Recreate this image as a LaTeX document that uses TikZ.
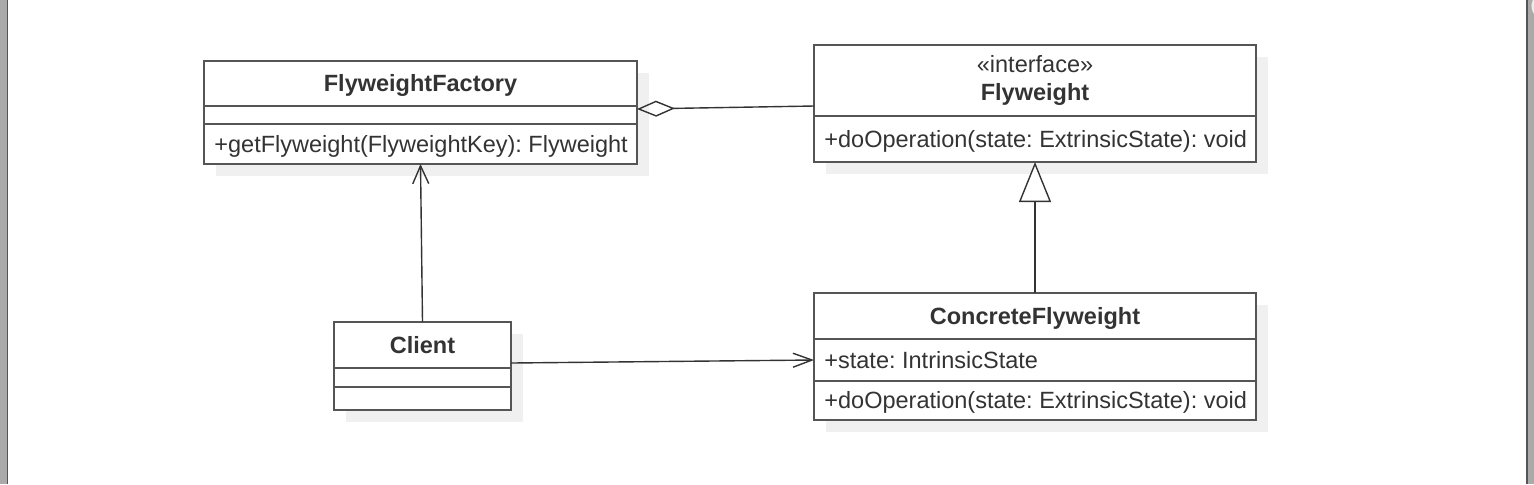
\documentclass[tikz,border=0pt]{standalone}
\usepackage{fontspec}
\setmainfont{Liberation Sans}
\usepackage{tikz}
\usetikzlibrary{positioning, shadows, arrows.meta}
\definecolor{grisborde}{RGB}{85,85,85}
\definecolor{gristexto}{RGB}{51,51,51}
\definecolor{grissombra}{RGB}{240,240,240}
\definecolor{grismarco}{RGB}{170,170,170}
\frenchspacing

\begin{document}
\begin{tikzpicture}[
		x=0.5pt, y=-0.5pt,
		node distance = 0pt,                        % Partes pegadas una bajo otra
		parte/.style = {
			rectangle,
			draw=grisborde,
			line width=1pt,
			fill=white,
			outer sep=0pt,
			inner sep=0pt,
			font=\fontsize{11.75}{13.75}\selectfont,
			text=gristexto,
			drop shadow={shadow xshift=6pt, shadow yshift=-6pt, fill=grissombra, opacity=1}
		},
		clase/.style = {
			parte,
			font=\fontsize{11.75}{13.75}\selectfont\bfseries,
			text height=8.4pt,
			text depth=0pt
		},
		texto/.style = {
			font=\fontsize{11.75}{13.75}\selectfont,
			text=gristexto,
			inner sep=0pt,
			text height=8.4pt,
			text depth=0pt
		},
		miembro/.style = {parte, label={[texto, anchor=west, xshift=5pt]west:{#1}}},
		conector/.style = {draw=gristexto, line width=0.7pt}
		]
		
		% Fondo y marco
		\useasboundingbox (0,0) rectangle (1534,484);
		\fill[white] (0,0) rectangle (1534,484);
		\fill[grismarco] (0,0) rectangle (7,484);
		\draw[grisborde, line width=0.6pt] (7.5,0) -- (7.5,484);
		\fill[grismarco] (1527,0) rectangle (1534,484);
		\draw[grisborde, line width=0.6pt] (1527,0) -- (1527,484);
		\filldraw[fill=black!8, draw=grismarco] (1546,6) circle (15);
		
		% Clase 1 - Arriba a la izquierda
		\node[clase, minimum width=216.5pt, minimum height=22.5pt, anchor=north west] (fabrica) at (204,61) {FlyweightFactory};
		\node[parte, minimum width=216.5pt, minimum height=9pt, below=of fabrica] (fabrica-atr) {};
		\node[miembro={+getFlyweight(FlyweightKey): Flyweight}, minimum width=216.5pt, minimum height=20pt, below=of fabrica-atr] (fabrica-met) {};
		
		% Clase 2 - Interfaz arriba a la derecha
		\node[parte, align=center, minimum width=221pt, minimum height=35.5pt, anchor=north west] (interfaz) at (814,45)
		{«interface»\\\textbf{Flyweight}};
		\node[miembro={+doOperation(state: ExtrinsicState): void}, minimum width=221pt, minimum height=23pt, below=of interfaz] (interfaz-met) {};
		
		% Clase 3 - Abajo a la derecha
		\node[clase, minimum width=221pt, minimum height=23pt, anchor=north west] (concreta) at (814,293) {ConcreteFlyweight};
		\node[miembro={+state: IntrinsicState}, minimum width=221pt, minimum height=21pt, below=of concreta] (concreta-atr) {};
		\node[miembro={+doOperation(state: ExtrinsicState): void}, minimum width=221pt, minimum height=19.5pt, below=of concreta-atr] (concreta-met) {};
		
		% Clase 4 - Abajo a la izquierda
		\node[clase, minimum width=88.5pt, minimum height=23pt, anchor=north west] (cliente) at (334,322) {Client};
		\node[parte, minimum width=88.5pt, minimum height=9.5pt, below=of cliente] (cliente-atr) {};
		\node[parte, minimum width=88.5pt, minimum height=11.5pt, below=of cliente-atr] (cliente-met) {};
		
		% Relaciones
		\draw[conector, {Diamond[open, length=19pt, width=8pt]}-] ([yshift=-1.5pt]fabrica-atr.north east) -- ([yshift=5pt]interfaz.south west);
		\draw[conector, -{Straight Barb[length=9pt, width=8pt]}] (cliente.north) -- (fabrica-met.south);
		\draw[conector, -{Straight Barb[length=9.5pt, width=7pt]}] ([yshift=2.5pt]cliente.south east) -- (concreta-atr.west);
		\draw[conector, -{Triangle[open, length=20pt, width=16pt, fill=white]}] (concreta.north) -- (interfaz-met.south);
		
	\end{tikzpicture}
\end{document}
